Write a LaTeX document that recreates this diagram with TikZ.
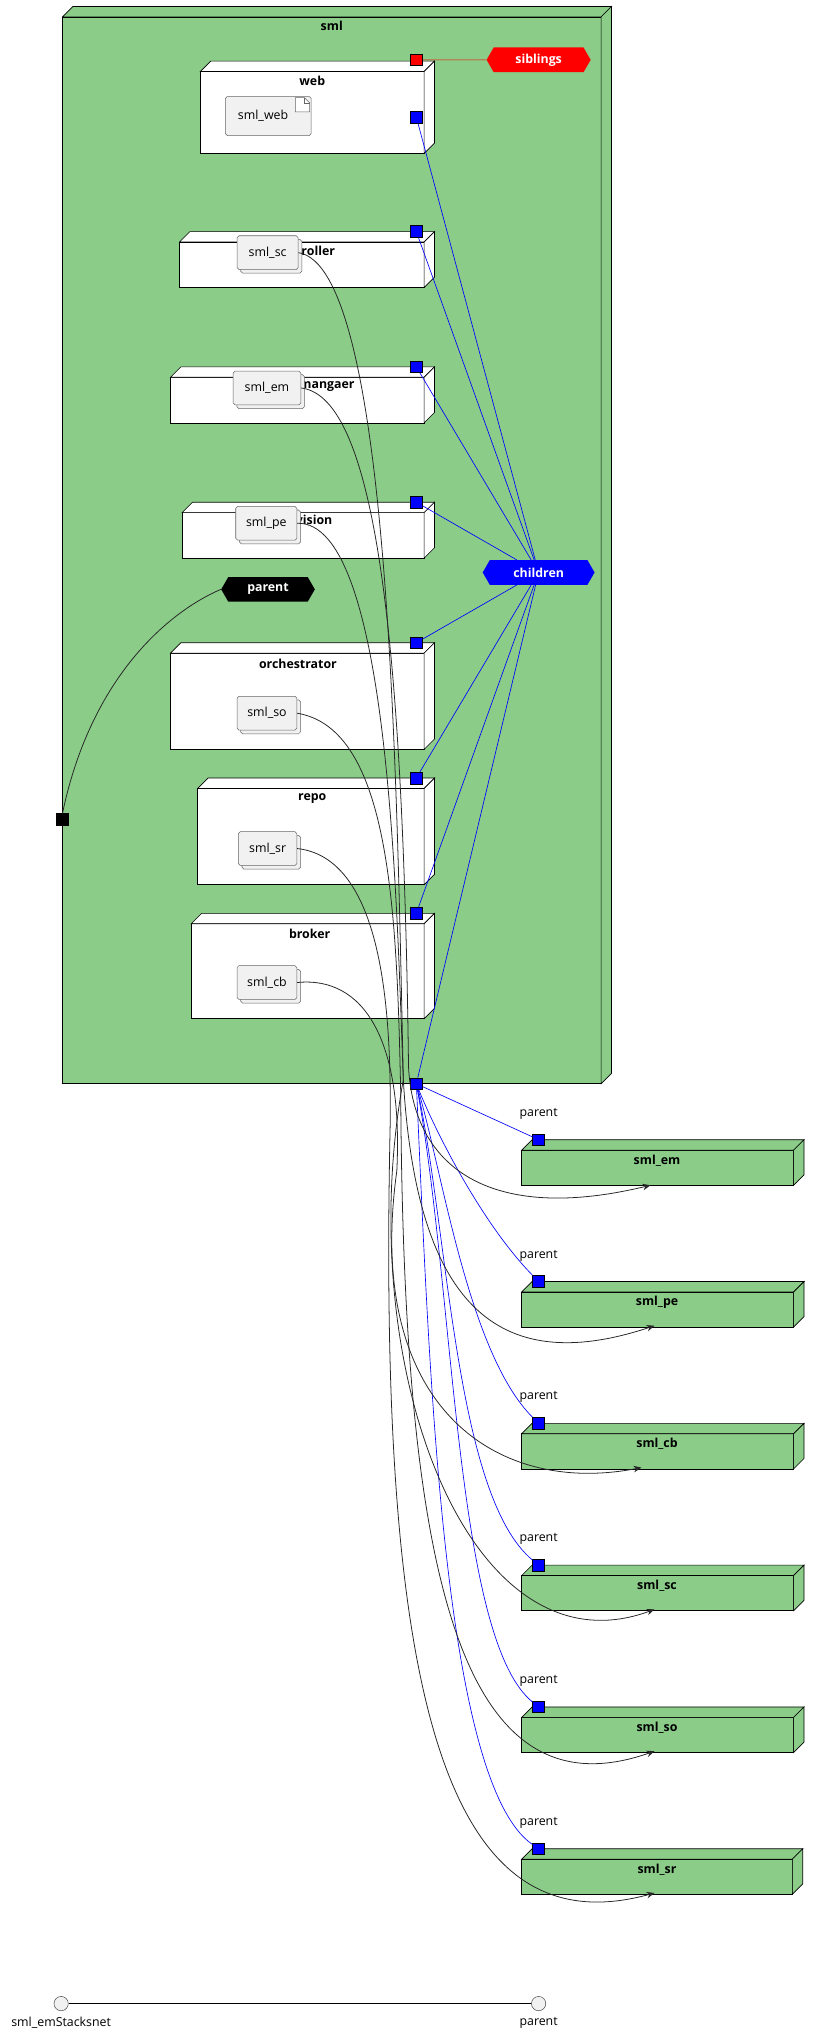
\documentclass[tikz,border=0pt]{standalone}
\usepackage{fontspec}
\setmainfont{Open Sans}
\usetikzlibrary{shapes.symbols,arrows.meta}
\definecolor{grn}{HTML}{8ACC88}
\definecolor{artf}{HTML}{F1F1F1}
\tikzset{
 port/.style={draw=black,fill=#1,minimum size=9pt,inner sep=0pt,line width=0.5pt},
 hexa/.style={signal,signal to=east and west,signal pointer angle=120,fill=#1,text=white,font=\fontsize{9.5}{11}\selectfont\bfseries,inner xsep=2pt,minimum height=19pt,minimum width=80pt},
 ttl/.style={font=\fontsize{9.5}{11}\selectfont\bfseries},
 lbl/.style={font=\fontsize{9.5}{11}\selectfont},
 art/.style={draw=black!60,fill=artf,rounded corners=1.5pt,font=\fontsize{9.5}{11}\selectfont,inner sep=0pt},
 blu/.style={blue,line width=0.5pt},
 blk/.style={black!85,line width=0.6pt},
 arr/.style={blk,-{Stealth[length=6pt,width=5pt]}},
}
\newcommand\cubebox[5]{%
 \filldraw[fill=#5,draw=black,line width=0.5pt] (#1,#2+8) rectangle (#3,#4);
 \filldraw[fill=#5,draw=black,line width=0.5pt] (#1,#2+8) -- (#1+8,#2) -- (#3+8,#2) -- (#3,#2+8) -- cycle;
 \filldraw[fill=#5,draw=black,line width=0.5pt] (#3,#2+8) -- (#3+8,#2) -- (#3+8,#4-8) -- (#3,#4) -- cycle;}
\newcommand\stacked[5]{%
 \filldraw[fill=artf,draw=black!60,rounded corners=1.5pt] (#2+3,#3+3) rectangle (#4+3,#5+3);
 \node[art,minimum width=#4-#2,minimum height=#5-#3,anchor=north west] (#1) at (#2,#3) {};}
\begin{document}
\begin{tikzpicture}[x=1pt,y=-1pt]
\useasboundingbox (0,0) rectangle (633,1568);
\cubebox{48}{5}{462}{833}{grn}
\node[ttl] (smlt) at (255,20) {sml};
\cubebox{154}{47}{326}{118}{white}
\node[ttl] (webt) at (240,62) {web};
\node[art,minimum width=66pt,minimum height=30pt,anchor=north west] (smlweb) at (173,74) {\hspace*{-8pt}sml\_web};
\draw[black!60,fill=white] (227,75) -- (234,75) -- (238,79) -- (238,86) -- (227,86) -- cycle;
\draw[black!60] (234,75) -- (234,79) -- (238,79);
\cubebox{138}{178}{326}{221}{white}
\node[ttl,anchor=east] (ct) at (261,193) {controller};
\stacked{smlsc}{182}{181}{229}{207}
\node[lbl] at (smlsc) {sml\_sc};
\cubebox{131}{282}{326}{325}{white}
\node[ttl,anchor=east] (mt) at (276,297) {mangaer};
\stacked{smlem}{179}{285}{231}{311}
\node[lbl] at (smlem) {sml\_em};
\cubebox{140}{386}{326}{429}{white}
\node[ttl,anchor=east] (pt) at (259,401) {provision};
\stacked{smlpe}{181}{389}{228}{415}
\node[lbl] at (smlpe) {sml\_pe};
\cubebox{131}{494}{326}{576}{white}
\node[ttl] (ot) at (229,510) {orchestrator};
\stacked{smlso}{182}{535}{228}{561}
\node[lbl] at (smlso) {sml\_so};
\cubebox{152}{598}{326}{680}{white}
\node[ttl] (rt) at (240,614) {repo};
\stacked{smlsr}{183}{639}{228}{665}
\node[lbl] at (smlsr) {sml\_sr};
\cubebox{147}{702}{326}{783}{white}
\node[ttl] (bt) at (238,718) {broker};
\stacked{smlcb}{182}{742}{228}{768}
\node[lbl] at (smlcb) {sml\_cb};
\node[hexa=red] (sib) at (414,46) {siblings};
\node[hexa=blue,minimum width=86pt] (chi) at (414,440) {children};
\node[hexa=black,minimum width=72pt] (par) at (206,453) {parent};
\node[port=red] (psib) at (320,46) {};
\node[port=blue] (pweb) at (320,90) {};
\node[port=blue] (pc) at (320,178) {};
\node[port=blue] (pm) at (320,282) {};
\node[port=blue] (pp) at (320,386) {};
\node[port=blue] (po) at (320,494) {};
\node[port=blue] (pr) at (320,598) {};
\node[port=blue] (pb) at (320,702) {};
\node[port=blue] (pbot) at (320,833) {};
\node[port=black] (pleft) at (48,630) {};
\foreach \n/\y/\r in {em/876/610,pe/985/610,cb/1094/610,sc/1203/610,so/1312/610,sr/1421/609}{
 \cubebox{401}{\y}{\r}{\y+35}{grn}
 \node[ttl] (o\n) at (505,\y+16) {sml\_\n};
 \node[port=blue] (q\n) at (414,\y) {};
 \node[lbl] (l\n) at (414,\y-20) {parent};
}
\draw[red,line width=0.5pt] (psib) -- (sib);
\foreach \p in {pweb,pc,pm,pp,po,pr,pb,pbot}{\draw[blu] (\p) -- (chi);}
\draw[blk] (pleft.north) .. controls (70,520) and (130,470) .. (par.west);
\draw[blu] (pbot) -- (qem);
\draw[blu] (pbot) .. controls (335,870) and (370,940) .. (qpe);
\draw[blu] (pbot) .. controls (340,900) and (360,1040) .. (qcb);
\draw[blu] (pbot) .. controls (345,950) and (350,1150) .. (qsc);
\draw[blu] (pbot) .. controls (350,1000) and (350,1260) .. (qso);
\draw[blu] (pbot) .. controls (330,1050) and (340,1370) .. (qsr);
\coordinate (eem) at (500,911);
\coordinate (epe) at (503,1019);
\coordinate (ecb) at (493,1128);
\coordinate (esc) at (503,1237);
\coordinate (eso) at (503,1346);
\coordinate (esr) at (503,1455);
\draw[arr] (smlem.east) .. controls (290,305) and (310,500) .. (314,820) .. controls (318,900) and (380,940) .. (eem);
\draw[arr] (smlpe.east) .. controls (300,400) and (305,700) .. (310,830) .. controls (320,1000) and (380,1060) .. (epe);
\draw[arr] (smlcb.east) .. controls (280,750) and (310,800) .. (305,900) .. controls (280,1080) and (380,1150) .. (ecb);
\draw[arr] (smlsc.east) .. controls (300,205) and (305,600) .. (310,830) .. controls (270,1050) and (360,1290) .. (esc);
\draw[arr] (smlso.east) .. controls (300,560) and (305,700) .. (308,840) .. controls (310,1200) and (350,1400) .. (eso);
\draw[arr] (smlsr.east) .. controls (300,660) and (300,800) .. (300,860) .. controls (290,1300) and (340,1500) .. (esr);
\node[circle,draw=black!70,fill=artf,minimum size=11pt,inner sep=0pt] (c1) at (47,1540) {};
\node[circle,draw=black!70,fill=artf,minimum size=11pt,inner sep=0pt] (c2) at (414,1540) {};
\draw[line width=0.6pt] (c1) -- (c2);
\node[lbl,below=1pt] (t1) at (c1.south) {sml\_emStacksnet};
\node[lbl,below=1pt] (t2) at (c2.south) {parent};
\end{tikzpicture}
\end{document}
